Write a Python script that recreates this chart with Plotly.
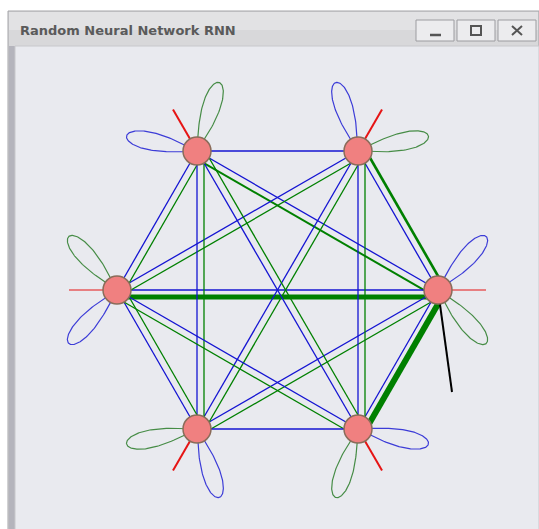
import numpy as np
import plotly.graph_objects as go

# neuron positions (window pixels) and outward direction of each neuron
node_x = [438, 358, 197, 117, 197, 358]
node_y = [290, 151, 151, 290, 429, 429]
node_dir = [0, 60, 120, 180, 240, 300]

# connections i-j: blue = excitatory weight, green = inhibitory weight (line width)
edge_src = [0, 0, 0, 0, 0, 1, 1, 1, 1, 2, 2, 2, 3, 3, 4]
edge_dst = [1, 2, 3, 4, 5, 2, 3, 4, 5, 3, 4, 5, 4, 5, 5]
w_plus = [1.3, 1.3, 1.3, 1.3, 1.3, 1.3, 1.3, 1.3, 1.3, 1.3, 1.3, 1.3, 1.3, 1.3, 1.3]
w_minus = [2.6, 2.0, 5.0, 1.3, 6.0, 0.0, 1.3, 1.3, 1.3, 1.3, 1.3, 1.3, 1.3, 1.3, 0.0]

# self loops and external inputs per neuron
loop_plus = [1.2, 1.2, 1.2, 1.2, 1.2, 1.2]
loop_minus = [1.2, 1.2, 1.2, 1.2, 1.2, 1.2]
input_w = [1.2, 2.0, 2.0, 1.2, 2.0, 2.0]
output_node = 0
output_vec = (14, 102)

BLUE = "rgb(20,20,210)"
GREEN = "rgb(0,128,0)"
LOOP_BLUE = "rgb(60,60,215)"
LOOP_GREEN = "rgb(70,140,70)"
RED = "rgb(230,20,20)"
OFF = 7.0


def petal(x0, y0, ang, length=72, half=15):
    phi = np.radians(np.linspace(-half, half, 121))
    r = length * np.sqrt(np.clip(np.cos(phi / np.radians(half) * np.pi / 2), 0, 1))
    a = np.radians(ang) + phi
    return x0 + r * np.cos(a), y0 - r * np.sin(a)


fig = go.Figure()

# window chrome
shapes = [
    dict(type="rect", x0=8, y0=11, x1=539, y1=530, fillcolor="#d4d4d6",
         line=dict(color="#a4a4a8", width=1)),
    dict(type="rect", x0=9, y0=12, x1=538, y1=30, fillcolor="#e2e2e4", line_width=0),
    dict(type="rect", x0=9, y0=30, x1=538, y1=46, fillcolor="#d8d8da", line_width=0),
    dict(type="rect", x0=9, y0=46, x1=15, y1=530, fillcolor="#b4b4bc", line_width=0),
    dict(type="rect", x0=15, y0=46, x1=539, y1=530, fillcolor="#e9eaef",
         line=dict(color="#c8c8cc", width=1)),
]
for bx0, bx1 in [(416, 454), (457, 495), (498, 536)]:
    shapes.append(dict(type="rect", x0=bx0, y0=20, x1=bx1, y1=41, fillcolor="#ececee",
                       line=dict(color="#9c9ca0", width=1)))
shapes += [
    dict(type="line", x0=430, y0=35, x1=441, y1=35, line=dict(color="#555555", width=2.5)),
    dict(type="rect", x0=471, y0=26, x1=481, y1=35, line=dict(color="#555555", width=2)),
    dict(type="line", x0=512, y0=26, x1=522, y1=35, line=dict(color="#555555", width=2)),
    dict(type="line", x0=512, y0=35, x1=522, y1=26, line=dict(color="#555555", width=2)),
]

# connections
for s, d, wp, wm in zip(edge_src, edge_dst, w_plus, w_minus):
    x1, y1, x2, y2 = node_x[s], node_y[s], node_x[d], node_y[d]
    dx, dy = x2 - x1, y2 - y1
    ln = np.hypot(dx, dy)
    nx, ny = -dy / ln, dx / ln
    if nx + ny < 0:
        nx, ny = -nx, -ny
    if wp > 0:
        fig.add_trace(go.Scatter(x=[x1, x2], y=[y1, y2], mode="lines",
                                 line=dict(color=BLUE, width=wp), hoverinfo="skip"))
    if wm > 0:
        fig.add_trace(go.Scatter(x=[x1 + OFF * nx, x2 + OFF * nx], y=[y1 + OFF * ny, y2 + OFF * ny],
                                 mode="lines", line=dict(color=GREEN, width=wm), hoverinfo="skip"))

# self loops and inputs
for i in range(6):
    px, py = petal(node_x[i], node_y[i], node_dir[i] + 48)
    fig.add_trace(go.Scatter(x=px, y=py, mode="lines", line=dict(color=LOOP_BLUE, width=loop_plus[i]),
                             hoverinfo="skip"))
    px, py = petal(node_x[i], node_y[i], node_dir[i] - 48)
    fig.add_trace(go.Scatter(x=px, y=py, mode="lines", line=dict(color=LOOP_GREEN, width=loop_minus[i]),
                             hoverinfo="skip"))
    a = np.radians(node_dir[i])
    fig.add_trace(go.Scatter(x=[node_x[i], node_x[i] + 48 * np.cos(a)],
                             y=[node_y[i], node_y[i] - 48 * np.sin(a)], mode="lines",
                             line=dict(color=RED, width=input_w[i]), hoverinfo="skip"))

fig.add_trace(go.Scatter(x=[node_x[output_node], node_x[output_node] + output_vec[0]],
                         y=[node_y[output_node], node_y[output_node] + output_vec[1]],
                         mode="lines", line=dict(color="black", width=2), hoverinfo="skip"))

# neurons
fig.add_trace(go.Scatter(x=node_x, y=node_y, mode="markers",
                         marker=dict(size=28, color="#F08080", line=dict(color="#8a6c5a", width=1.5)),
                         hoverinfo="skip"))

fig.update_layout(
    width=539, height=529,
    margin=dict(l=0, r=0, t=0, b=0),
    paper_bgcolor="white", plot_bgcolor="white",
    showlegend=False,
    shapes=[dict(s, layer="below") for s in shapes],
    xaxis=dict(range=[0, 539], visible=False, fixedrange=True),
    yaxis=dict(range=[529, 0], visible=False, fixedrange=True),
    annotations=[dict(x=18, y=30, xref="x", yref="y", xanchor="left", yanchor="middle",
                      text="<b>Random Neural Network RNN</b>", showarrow=False,
                      font=dict(family="DejaVu Sans", size=13, color="#5a5a5a"))],
)

fig.write_html("out.html", config={"displayModeBar": False},
               post_script="document.body.style.margin='0px';")
